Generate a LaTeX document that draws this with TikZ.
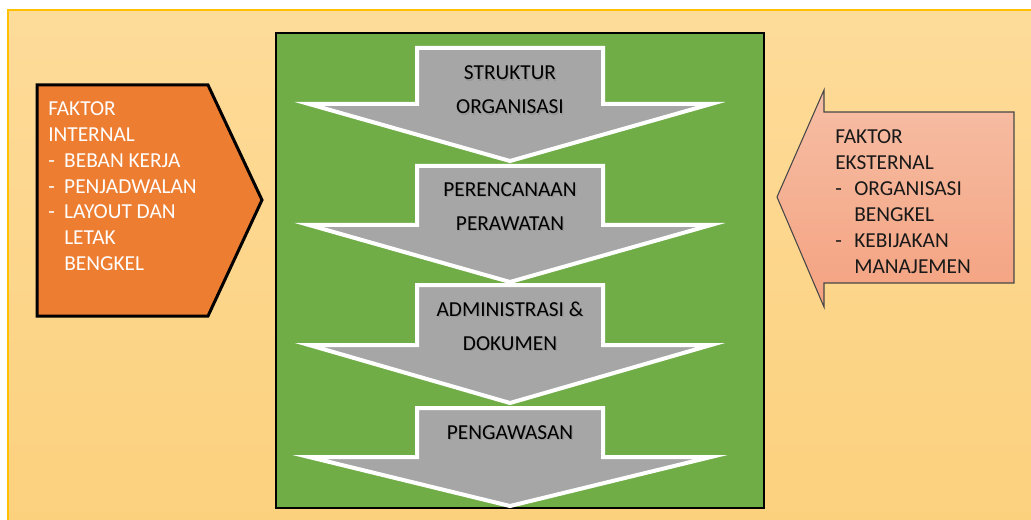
\documentclass[tikz,border=0pt]{standalone}
\usepackage{fontspec}
\setmainfont{Carlito}
\definecolor{bgtop}{RGB}{253,219,153}
\definecolor{bgbot}{RGB}{252,209,126}
\definecolor{goldline}{RGB}{255,192,0}
\definecolor{panelgreen}{RGB}{112,173,71}
\definecolor{stepgray}{RGB}{166,166,166}
\definecolor{internalorange}{RGB}{237,125,49}
\definecolor{externaltop}{RGB}{246,190,165}
\definecolor{externalbot}{RGB}{244,162,128}
\definecolor{darktext}{RGB}{25,25,25}
\tikzset{
  flowarrow/.style={draw=white, fill=stepgray, line width=3pt, line join=miter, miter limit=12},
  flowtext/.style={align=center, inner sep=0pt, text=black, font=\fontsize{16}{25.5}\selectfont},
  flowshadow/.style={flowtext, text=black!45, opacity=0.6},
  sidetext/.style={align=left, inner sep=0pt, anchor=base west, font=\fontsize{16}{19.4}\selectfont},
}
\begin{document}
\begin{tikzpicture}[x=0.75pt, y=-0.75pt]
\useasboundingbox (0,0) rectangle (1031,520);
\fill[white] (0,0) rectangle (1031,520);

% page background with gold frame
\shade[top color=bgtop, bottom color=bgbot] (8,10) rectangle (1031,520);
\draw[goldline, line width=1pt] (1031,10) -- (8,10) -- (8,520);

% green panel holding the process steps
\draw[fill=panelgreen, draw=black, line width=2pt] (276,33) rectangle (764,508);

% the four stacked down arrows
\foreach \t/\s/\b in {48/104/161, 166/225/282, 285/345/403, 408/457/506}{
  \draw[flowarrow] (417,\t) -- (603,\t) -- (603,\s) -- (711,\s) -- (510,\b)
                   -- (309,\s) -- (417,\s) -- cycle;
}
% step labels with a soft drop shadow
\foreach \nm/\y/\txt in {struktur/90/{STRUKTUR\\ORGANISASI},
                         perencanaan/206.5/{PERENCANAAN\\PERAWATAN},
                         administrasi/326.5/{ADMINISTRASI \&\\DOKUMEN},
                         pengawasan/432.7/{PENGAWASAN}}{
  \node[flowshadow] (\nm-shadow) at (511.2,\y+1.2) {\txt};
  \node[flowtext] (\nm) at (510,\y) {\txt};
}

% internal factors (pentagon pointing right)
\draw[fill=internalorange, draw=black, line width=2.25pt, line join=miter]
  (37,85) -- (208,85) -- (262,200) -- (208,316) -- (37,316) -- cycle;
\node[sidetext, text=white] (internal) at (48,270.7)
  {FAKTOR\\
   INTERNAL\\
   \makebox[12pt][l]{-}BEBAN KERJA\\
   \makebox[12pt][l]{-}PENJADWALAN\\
   \makebox[12pt][l]{-}LAYOUT DAN\\
   \hspace*{12pt}LETAK\\
   \hspace*{12pt}BENGKEL};

% external factors (arrow pointing left)
\shade[top color=externaltop, bottom color=externalbot]
  (1014,112) -- (824,112) -- (824,90) -- (777,197) -- (824,307) -- (824,283) -- (1014,283) -- cycle;
\draw[draw=darktext!80, line width=0.8pt, line join=miter]
  (1014,112) -- (824,112) -- (824,90) -- (777,197) -- (824,307) -- (824,283) -- (1014,283) -- cycle;
\node[sidetext, text=darktext] (external) at (835,273)
  {FAKTOR\\
   EKSTERNAL\\
   \makebox[14.25pt][l]{-}ORGANISASI\\
   \hspace*{14.25pt}BENGKEL\\
   \makebox[14.25pt][l]{-}KEBIJAKAN\\
   \hspace*{14.25pt}MANAJEMEN};
\end{tikzpicture}
\end{document}
